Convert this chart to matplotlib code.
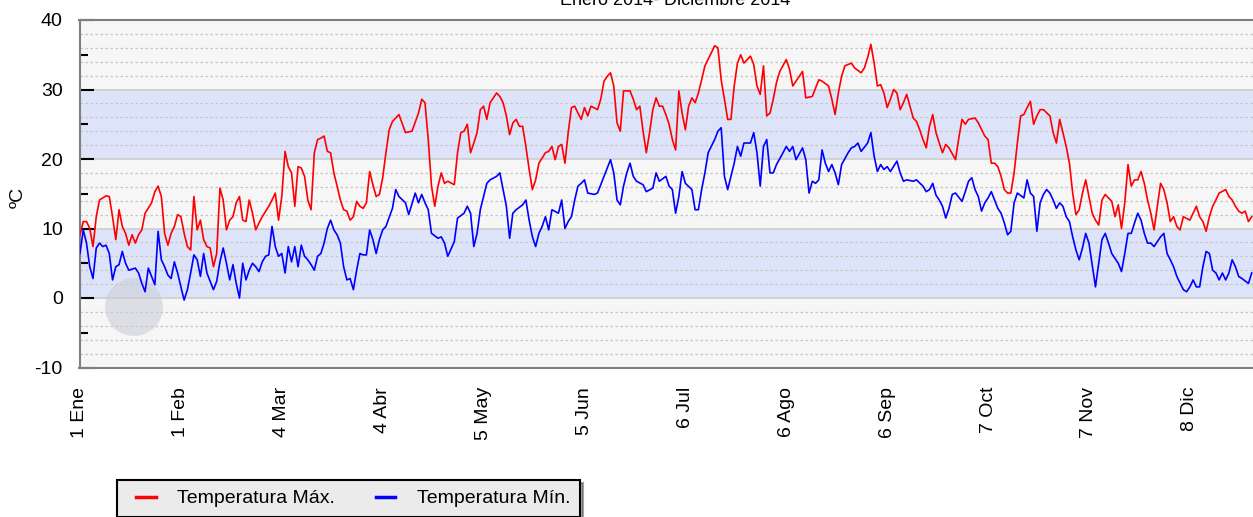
import matplotlib.pyplot as plt
from matplotlib.patches import Ellipse
from matplotlib.lines import Line2D
from matplotlib.legend_handler import HandlerLine2D
import pandas as pd

plt.rcParams['font.family'] = ['Liberation Sans', 'DejaVu Sans']
plt.rcParams['axes.unicode_minus'] = False

# Daily max / min temperature 2014 (day of year, 0 = 1 Ene)
max_days = [0, 1, 2, 3, 4, 5, 6, 8, 9, 10, 11, 12, 13, 14, 15, 16, 17, 18, 19, 20,
            22, 23, 24, 25, 26, 27, 28, 29, 30, 31, 32, 33, 34, 35, 36, 37, 38, 39, 40, 41,
            42, 43, 44, 45, 46, 47, 48, 49, 50, 51, 52, 53, 54, 55, 56, 58, 59, 60, 61, 62,
            63, 64, 65, 66, 67, 68, 69, 70, 71, 72, 73, 74, 75, 76, 77, 78, 79, 80, 81, 82,
            83, 84, 85, 86, 87, 88, 89, 90, 91, 92, 93, 94, 95, 96, 98, 100, 102, 104, 105, 106,
            107, 108, 109, 110, 111, 112, 113, 115, 116, 117, 118, 119, 120, 121, 122, 123, 124, 125, 126, 128,
            129, 130, 131, 132, 133, 134, 135, 136, 137, 138, 139, 140, 141, 143, 144, 145, 146, 147, 148, 149,
            150, 151, 152, 153, 154, 155, 156, 157, 159, 160, 161, 162, 163, 164, 165, 166, 167, 169, 170, 171,
            172, 173, 174, 175, 176, 177, 178, 179, 180, 181, 182, 183, 184, 185, 186, 187, 188, 189, 190, 191,
            192, 194, 195, 196, 197, 198, 199, 200, 201, 202, 203, 204, 206, 207, 208, 209, 210, 211, 212, 213,
            214, 215, 217, 218, 219, 221, 222, 223, 225, 226, 227, 228, 230, 231, 232, 233, 234, 235, 237, 238,
            240, 241, 242, 243, 244, 245, 246, 247, 248, 249, 250, 251, 252, 253, 254, 255, 256, 257, 258, 259,
            260, 261, 262, 263, 264, 265, 266, 267, 269, 270, 271, 272, 273, 275, 276, 278, 279, 280, 281, 282,
            283, 284, 285, 286, 287, 288, 289, 290, 291, 292, 293, 294, 295, 296, 298, 299, 300, 301, 302, 303,
            304, 305, 306, 307, 308, 309, 310, 311, 312, 313, 314, 315, 317, 318, 319, 320, 321, 322, 323, 324,
            325, 326, 327, 328, 329, 330, 331, 332, 333, 334, 335, 336, 337, 338, 339, 341, 342, 343, 344, 345,
            346, 347, 348, 349, 350, 352, 353, 354, 355, 356, 357, 358, 359, 360]
max_temp = [9.1, 11, 11, 10, 7.4, 11.7, 14.1, 14.7, 14.6, 11.7, 8.4, 12.7, 10.3, 9.3, 7.6, 9.1, 7.9, 9.1, 9.8, 12.2,
            13.7, 15.3, 16.1, 14.6, 9.3, 7.6, 9.3, 10.3, 12, 11.7, 9.3, 7.4, 6.9, 14.6, 9.8, 11.2, 8.4, 7.4, 7.2, 4.5,
            6.4, 15.8, 14.1, 9.8, 11.2, 11.7, 13.7, 14.6, 11.2, 11, 14.1, 12.2, 9.8, 10.8, 11.7, 13.2, 14.1, 15.1, 11.2, 14.6,
            21.1, 18.9, 18, 13.2, 18.9, 18.7, 17.5, 14.1, 12.7, 20.9, 22.8, 23, 23.3, 21.1, 20.9, 18, 16.1, 14.1, 12.7, 12.5,
            11.2, 11.7, 13.9, 13.2, 12.9, 13.7, 18.2, 16.3, 14.6, 14.9, 17.3, 20.9, 24.2, 25.4, 26.4, 23.8, 24, 26.6, 28.6, 28.1,
            22.8, 16.1, 13.2, 16.1, 18, 16.5, 16.8, 16.3, 20.9, 23.8, 24, 25, 20.9, 22.3, 23.8, 27.1, 27.6, 25.7, 28.1, 29.5,
            29, 28.1, 26.2, 23.5, 25.2, 25.7, 24.7, 24.7, 21.8, 18.5, 15.6, 17, 19.4, 20.9, 21.1, 21.8, 19.9, 21.8, 22.1, 19.4,
            23.8, 27.4, 27.6, 26.6, 25.7, 27.4, 26.2, 27.6, 27.1, 28.6, 31.2, 31.9, 32.4, 30.5, 25.2, 24, 29.8, 29.8, 28.6, 27.1,
            27.6, 24, 20.9, 23.8, 27.1, 28.8, 27.6, 27.6, 26.4, 25, 22.8, 21.3, 29.8, 26.6, 24.2, 27.6, 28.8, 28.1, 29.5, 31.4,
            33.4, 35.3, 36.3, 36, 31.4, 28.6, 25.7, 25.7, 30.5, 33.8, 35, 33.8, 34.8, 33.6, 30.5, 29.3, 33.4, 26.2, 26.6, 28.6,
            31, 32.6, 34.3, 32.9, 30.5, 31.9, 32.6, 28.8, 29, 30.2, 31.4, 31.2, 30.5, 28.6, 26.4, 29.5, 31.9, 33.4, 33.8, 33.1,
            32.4, 33.1, 34.6, 36.5, 33.8, 30.5, 30.7, 29.5, 27.4, 28.6, 30, 29.5, 27.1, 28.1, 29.3, 27.6, 25.9, 25.4, 24.2, 22.8,
            21.6, 24.7, 26.4, 23.8, 22.3, 20.9, 22.1, 21.6, 19.9, 23, 25.7, 25, 25.7, 25.9, 25.2, 23.3, 22.8, 19.4, 19.4, 18.9,
            17.5, 15.6, 15.1, 15.1, 18, 22.3, 26.2, 26.4, 27.4, 28.3, 25, 26.2, 27.1, 27.1, 26.2, 23.8, 22.3, 25.7, 23.8, 21.8,
            19.4, 15.1, 12, 12.7, 15.1, 17, 14.6, 12.2, 11.2, 10.5, 14.1, 14.9, 13.9, 11.7, 13.4, 10, 13.7, 19.2, 16.1, 17,
            17, 18.2, 16.5, 14.1, 12.2, 9.8, 13.2, 16.5, 15.6, 13.7, 11, 11.7, 10.3, 9.8, 11.7, 11.2, 12.2, 13.2, 11.7, 11,
            9.6, 11.7, 13.2, 14.1, 15.1, 15.6, 14.6, 14.1, 13.2, 12.5, 12.2, 12.5, 11, 11.7]

min_days = [0, 1, 2, 3, 4, 5, 6, 7, 8, 9, 10, 11, 12, 13, 14, 15, 17, 18, 19, 20,
            21, 22, 23, 24, 25, 26, 27, 28, 29, 30, 31, 32, 33, 34, 35, 36, 37, 38, 39, 40,
            41, 42, 43, 44, 45, 46, 47, 48, 49, 50, 51, 52, 53, 54, 55, 56, 57, 58, 59, 60,
            61, 62, 63, 64, 65, 66, 67, 68, 69, 70, 71, 72, 73, 74, 75, 76, 77, 78, 79, 80,
            81, 82, 83, 84, 85, 86, 87, 88, 89, 90, 91, 92, 93, 94, 96, 97, 98, 100, 101, 103,
            104, 105, 106, 107, 108, 110, 111, 112, 113, 115, 116, 118, 119, 120, 121, 122, 123, 125, 126, 128,
            129, 130, 131, 132, 133, 134, 136, 137, 138, 139, 140, 141, 142, 143, 144, 145, 147, 148, 149, 150,
            151, 152, 153, 154, 155, 156, 158, 159, 161, 162, 163, 164, 165, 166, 167, 168, 169, 170, 171, 173,
            174, 176, 177, 178, 180, 181, 182, 183, 184, 185, 186, 188, 189, 190, 191, 192, 193, 195, 196, 197,
            198, 199, 200, 201, 202, 203, 204, 206, 207, 208, 209, 210, 211, 212, 213, 214, 216, 217, 218, 219,
            220, 222, 223, 224, 225, 226, 227, 228, 229, 230, 231, 232, 233, 234, 236, 237, 238, 239, 240, 242,
            243, 244, 245, 246, 247, 248, 249, 251, 252, 253, 254, 256, 257, 259, 260, 261, 262, 263, 264, 265,
            266, 267, 268, 269, 271, 272, 273, 274, 275, 276, 277, 278, 279, 280, 281, 282, 283, 284, 285, 286,
            287, 288, 290, 291, 292, 293, 294, 295, 296, 297, 298, 299, 300, 301, 302, 303, 304, 305, 306, 307,
            308, 309, 310, 311, 312, 313, 314, 315, 316, 317, 319, 320, 321, 322, 323, 324, 325, 326, 327, 328,
            329, 330, 331, 332, 333, 334, 335, 336, 337, 339, 340, 341, 342, 343, 344, 345, 346, 347, 348, 349,
            350, 351, 352, 353, 354, 355, 356, 357, 359, 360]
min_temp = [6.4, 9.8, 7.9, 4.5, 2.8, 7.2, 7.9, 7.4, 7.6, 6.4, 2.6, 4.5, 4.8, 6.7, 5, 4, 4.3, 3.6, 2.1, 0.9,
            4.3, 3.1, 1.9, 9.6, 5.5, 4.5, 3.3, 2.8, 5.2, 3.6, 1.6, -0.3, 1.2, 3.6, 6.2, 5.5, 3.1, 6.4, 3.6, 2.4,
            1.2, 2.4, 5.2, 7.2, 5, 2.6, 4.8, 2.1, 0, 5, 2.6, 4, 5, 4.5, 3.8, 5.2, 6, 6.2, 10.3, 7.4,
            6, 6.4, 3.6, 7.4, 5.2, 7.4, 4.5, 7.6, 6, 5.5, 4.8, 4, 6, 6.4, 7.9, 10, 11.2, 9.8, 9.1, 7.9,
            4.5, 2.6, 2.8, 1.2, 4, 6.4, 6.2, 6.2, 9.8, 8.4, 6.4, 8.4, 9.8, 10.3, 12.9, 15.6, 14.6, 13.7, 12, 15.1,
            13.7, 14.9, 13.7, 12.7, 9.3, 8.6, 8.8, 7.9, 6, 8.1, 11.5, 12.2, 13.2, 12.2, 7.4, 9.3, 12.7, 16.5, 17, 17.5,
            18, 15.6, 13.2, 8.6, 12.2, 12.7, 13.4, 14.1, 11.2, 8.8, 7.4, 9.3, 10.3, 11.7, 9.8, 12.7, 12.2, 14.1, 10, 11,
            11.7, 14.1, 16.1, 16.5, 17, 15.1, 14.9, 15.1, 17.5, 18.7, 19.9, 18, 14.1, 13.4, 16.1, 18, 19.4, 17.5, 16.8, 16.3,
            15.3, 15.8, 18, 16.8, 17.5, 16.1, 15.6, 12.2, 14.6, 18.2, 16.5, 15.6, 12.7, 12.7, 15.6, 18, 20.9, 22.8, 24, 24.5,
            17.5, 15.6, 17.5, 19.4, 21.8, 20.4, 22.3, 22.3, 23.8, 20.9, 16.1, 21.8, 22.8, 18, 18, 19.2, 20.9, 21.8, 21.1, 21.8,
            19.9, 21.6, 19.9, 15.1, 16.8, 16.5, 17, 21.3, 19.4, 18.2, 19.2, 18, 16.3, 19.2, 20.9, 21.6, 21.8, 22.3, 21.1, 22.3,
            23.8, 20.4, 18.2, 19.2, 18.5, 18.9, 18.2, 19.7, 18, 16.8, 17, 16.8, 17, 16.1, 15.3, 15.6, 16.5, 14.8, 14.1, 13.2,
            11.5, 12.9, 14.9, 15.1, 13.9, 15.3, 16.8, 17.3, 15.6, 14.6, 12.5, 13.7, 14.4, 15.3, 14.1, 12.9, 12.2, 10.8, 9.1, 9.6,
            13.7, 15.1, 14.4, 17, 15.1, 14.6, 9.6, 13.7, 14.9, 15.6, 15.1, 14.1, 12.9, 13.7, 13.2, 11.7, 11, 8.8, 6.9, 5.5,
            7.2, 9.3, 7.9, 4.8, 1.6, 5, 8.4, 9.3, 7.9, 6.4, 5, 3.8, 6.4, 9.3, 9.3, 10.8, 12.2, 11.2, 9.3, 7.9,
            7.9, 7.4, 8.1, 8.8, 9.3, 6.4, 5.5, 4.5, 3.1, 1.2, 0.9, 1.6, 2.6, 1.6, 1.6, 4.5, 6.7, 6.4, 4, 3.6,
            2.6, 3.6, 2.6, 3.6, 5.5, 4.5, 3.1, 2.8, 2.1, 3.6]

tick_dates = ['2014-01-01', '2014-02-01', '2014-03-04', '2014-04-04', '2014-05-05', '2014-06-05',
              '2014-07-06', '2014-08-06', '2014-09-06', '2014-10-07', '2014-11-07', '2014-12-08']
tick_labels = ['1 Ene', '1 Feb', '4 Mar', '4 Abr', '5 May', '5 Jun',
               '6 Jul', '6 Ago', '6 Sep', '7 Oct', '7 Nov', '8 Dic']
bands = [(0, 10), (20, 30)]

base = pd.Timestamp('2014-01-01')
max_x = base + pd.to_timedelta(max_days, unit='D')
min_x = base + pd.to_timedelta(min_days, unit='D')

W, H = 1253, 517
fig = plt.figure(figsize=(W / 100, H / 100), dpi=100)
ax = fig.add_axes([79.5 / W, 1 - 367.5 / H, 1 - 79.5 / W, 347.5 / H])
ax.set_facecolor('#f6f6f6')

for lo, hi in bands:
    ax.axhspan(lo, hi, color='#dde4f9', lw=0, zorder=0)
for v in range(-8, 40, 2):
    if v % 10:
        ax.axhline(v, color='#c6c6c6', lw=0.9, ls=(0, (2, 2)), zorder=0.5)
for v in (0, 10, 20, 30):
    ax.axhline(v, color='#d0d0d0', lw=1.3, zorder=0.6)

# faint logo watermark
ax.add_patch(Ellipse((134 / W, 1 - 307 / H), 58 / W, 58 / H, transform=fig.transFigure,
                     facecolor='#c9ccd6', edgecolor='none', alpha=0.55, zorder=1))

ax.plot(max_x, max_temp, color='#ff0000', lw=1.2, label='Temperatura Máx.', zorder=3)
ax.plot(min_x, min_temp, color='#0000ff', lw=1.2, label='Temperatura Mín.', zorder=3)

ax.set_ylim(-10, 40)
ax.set_xlim(base - pd.Timedelta(days=0.15), base + pd.Timedelta(days=360.4))

ax.set_yticks(range(-10, 41, 10))
ax.set_yticks(range(-5, 40, 10), minor=True)
ax.tick_params(axis='y', which='major', direction='in', length=10, width=1.5, pad=12, labelsize=14)
ax.tick_params(axis='y', which='minor', direction='in', length=6, width=1.5)
ax.set_xticks(pd.to_datetime(tick_dates))
ax.set_xticklabels(tick_labels, rotation=90, fontsize=14)
ax.tick_params(axis='x', length=0, pad=14)

for s in ['left', 'top', 'bottom']:
    ax.spines[s].set_color('#7f7f7f')
    ax.spines[s].set_linewidth(1.5)
ax.spines['right'].set_visible(False)

fig.text(675 / W, 1 - 5 / H, 'Enero 2014- Diciembre 2014', ha='center', va='baseline', fontsize=13)
fig.text(18 / W, 1 - 197 / H, 'ºC', rotation=90, ha='center', va='center', fontsize=14)

leg = fig.legend(loc='upper left', bbox_to_anchor=(117 / W, 1 - 480 / H), ncol=2, fontsize=14,
                 frameon=True, fancybox=False, edgecolor='black', facecolor='#ebebeb', framealpha=1,
                 shadow=True, handlelength=1.5, handletextpad=1.1, columnspacing=1.6,
                 borderpad=0.5, borderaxespad=0,
                 handler_map={Line2D: HandlerLine2D(xpad=0.48)})
leg.get_frame().set_linewidth(1.5)
for h in leg.legend_handles:
    h.set_linewidth(2.5)

fig.savefig('out.png', dpi=100)
